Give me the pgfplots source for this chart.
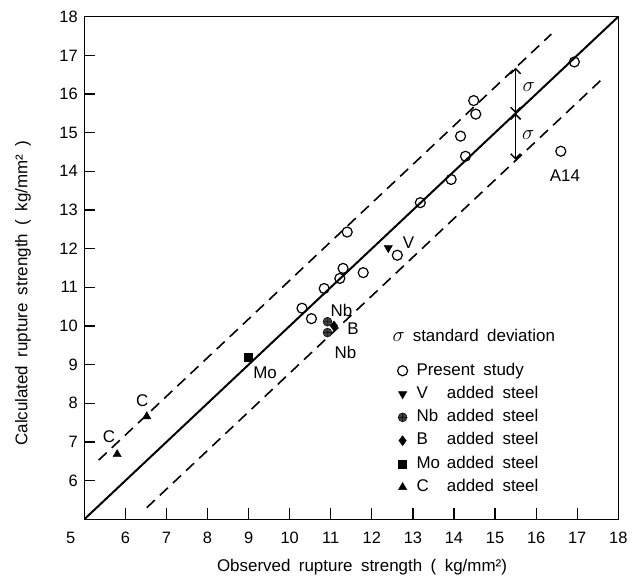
\documentclass[border=0pt]{standalone}
\usepackage{fontspec}
\setmainfont{Liberation Sans}[WordSpace=1.8]
\usepackage{pgfplots}
\pgfplotsset{compat=1.18}
\usetikzlibrary{arrows.meta}

\newcommand{\bigsig}{{\fontsize{22}{24}\selectfont$\sigma$}}

\begin{document}
\begin{tikzpicture}
\useasboundingbox (-84.3bp,-61.7bp) rectangle (555.7bp,519.3bp);
\begin{axis}[
  scale only axis,
  width=534bp, height=502.6bp,
  xmin=5, xmax=18, ymin=5, ymax=18,
  xtick={5,...,18}, ytick={6,...,18},
  xticklabels={\llap{5\hspace{9bp}},6,7,8,9,10,11,12,13,14,15,16,17,18},
  tick align=inside, tick pos=left,
  major tick length=11bp,
  tick style={line width=1.2bp, black},
  axis line style={line width=1.5bp},
  ticklabel style={font=\fontsize{16.5}{19}\selectfont},
  /pgf/number format/assume math mode=true,
  yticklabel style={xshift=-3bp},
  xticklabel style={yshift=-9bp},
  label style={font=\fontsize{17}{20}\selectfont},
  xlabel={Observed rupture strength ( kg/mm²)},
  ylabel={Calculated rupture strength ( kg/mm² )},
  xlabel style={at={(axis description cs:0.52,-0.095)}, anchor=center},
  ylabel style={at={(axis description cs:-0.115,0.45)}, anchor=center},
  legend cell align=left,
  legend style={draw=none, fill=none, at={(axis cs:12.55,9.2)}, anchor=north west,
    font=\fontsize{17}{20}\selectfont, row sep=0pt,
    /tikz/every odd column/.append style={column sep=5bp},
    nodes={text height=12bp, text depth=3.5bp, inner sep=3.9bp}},
]
% present study
\addplot[only marks, mark=o, mark size=5bp, mark options={line width=1.2bp}] coordinates {
(16.93,16.83) (14.48,15.83) (14.53,15.48) (14.16,14.91) (14.28,14.39)
(13.93,13.79) (13.18,13.19) (11.40,12.43) (12.62,11.83) (11.30,11.49)
(11.79,11.38) (11.22,11.23) (10.84,10.97) (10.30,10.46) (10.53,10.19)
(16.60,14.52)
};
\addlegendentry{Present study}
% V
\addplot[only marks, mark=triangle*, mark size=4.8bp, mark options={rotate=180, fill=black}] coordinates {(12.40,12.02)};
\addlegendentry{\makebox[1.8em][l]{V}added steel}
% Nb
\addplot[only marks, mark=oplus*, mark size=4.5bp, mark options={fill=black!75, draw=black}] coordinates {(10.92,10.11) (10.92,9.83)};
\addlegendentry{\makebox[1.8em][l]{Nb}added steel}
% B
\addplot[only marks, mark=diamond*, mark size=5bp, mark options={fill=black}] coordinates {(11.08,10.0)};
\addlegendentry{\makebox[1.8em][l]{B}added steel}
% Mo
\addplot[only marks, mark=square*, mark size=4bp, mark options={fill=black}] coordinates {(9.0,9.19)};
\addlegendentry{\makebox[1.8em][l]{Mo}added steel}
% C
\addplot[only marks, mark=triangle*, mark size=4.8bp, mark options={fill=black}] coordinates {(6.52,7.66) (5.80,6.68)};
\addlegendentry{\makebox[1.8em][l]{C}added steel}

% fitted line and +/- sigma band
\addplot[forget plot, line width=2bp] coordinates {(5,5) (18,18)};
\addplot[forget plot, line width=1.6bp, dash pattern=on 11bp off 7bp] coordinates {(5.35,6.53) (16.37,17.55)};
\addplot[forget plot, line width=1.6bp, dash pattern=on 11bp off 7bp] coordinates {(6.52,5.3) (17.6,16.38)};

\draw[line width=1.5bp, {Straight Barb[length=5bp]}-{Straight Barb[length=5bp]}] (axis cs:15.5,15.5) -- (axis cs:15.5,16.68);
\draw[line width=1.5bp, {Straight Barb[length=5bp]}-{Straight Barb[length=5bp]}] (axis cs:15.5,15.5) -- (axis cs:15.5,14.3);

\begin{scope}[font=\fontsize{17}{20}\selectfont]
\node at (axis cs:15.82,16.18) {\bigsig};
\node at (axis cs:15.81,14.94) {\bigsig};
\node at (axis cs:5.6,7.13) {C};
\node at (axis cs:6.41,8.07) {C};
\node at (axis cs:9.40,8.78) {Mo};
\node at (axis cs:11.26,10.39) {Nb};
\node at (axis cs:11.54,9.94) {B};
\node at (axis cs:11.36,9.32) {Nb};
\node at (axis cs:12.89,12.15) {V};
\node at (axis cs:16.70,13.90) {A14};
\node[anchor=west, inner sep=0pt] at (axis cs:12.5,9.75) {\bigsig\hspace{8bp}standard deviation};
\end{scope}
\end{axis}
\end{tikzpicture}
\end{document}
